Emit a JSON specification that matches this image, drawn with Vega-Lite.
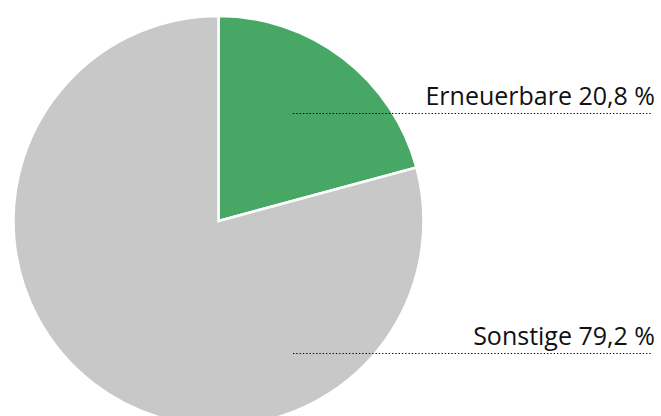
{
  "$schema": "https://vega.github.io/schema/vega-lite/v6.json",
  "width": 437,
  "height": 416,
  "autosize": "none",
  "padding": {"left": 0, "top": 0, "right": 224, "bottom": 0},
  "background": "white",
  "config": {"view": {"stroke": null}},
  "data": {
    "values": [
      {"category": "Erneuerbare", "value": 20.8, "label": "Erneuerbare 20,8 %"},
      {"category": "Sonstige", "value": 79.2, "label": "Sonstige 79,2 %"}
    ]
  },
  "layer": [
    {
      "mark": {"type": "arc", "outerRadius": 205, "yOffset": 13, "stroke": "white", "strokeWidth": 2.5},
      "encoding": {
        "theta": {"field": "value", "type": "quantitative", "stack": true},
        "color": {
          "field": "category",
          "type": "nominal",
          "scale": {"domain": ["Erneuerbare", "Sonstige"], "range": ["#47a764", "#c8c8c8"]},
          "legend": null
        },
        "order": {"field": "category", "sort": "ascending"}
      }
    },
    {
      "mark": {"type": "rule", "color": "#000000", "strokeWidth": 1.1, "strokeDash": [1.3, 2]},
      "encoding": {
        "x": {"datum": 0, "type": "quantitative", "scale": {"domain": [0, 1], "range": [293, 652]}, "axis": null},
        "x2": {"datum": 1},
        "y": {"field": "category", "type": "nominal", "scale": {"type": "point", "padding": 0, "domain": ["Erneuerbare", "Sonstige"], "range": [113.5, 353.5]}, "axis": null}
      }
    },
    {
      "mark": {"type": "text", "align": "right", "baseline": "alphabetic", "dy": -9, "dx": 3, "font": "Open Sans", "fontSize": 25, "color": "#111111"},
      "encoding": {
        "x": {"datum": 1, "type": "quantitative"},
        "y": {"field": "category", "type": "nominal"},
        "text": {"field": "label"}
      }
    }
  ]
}
